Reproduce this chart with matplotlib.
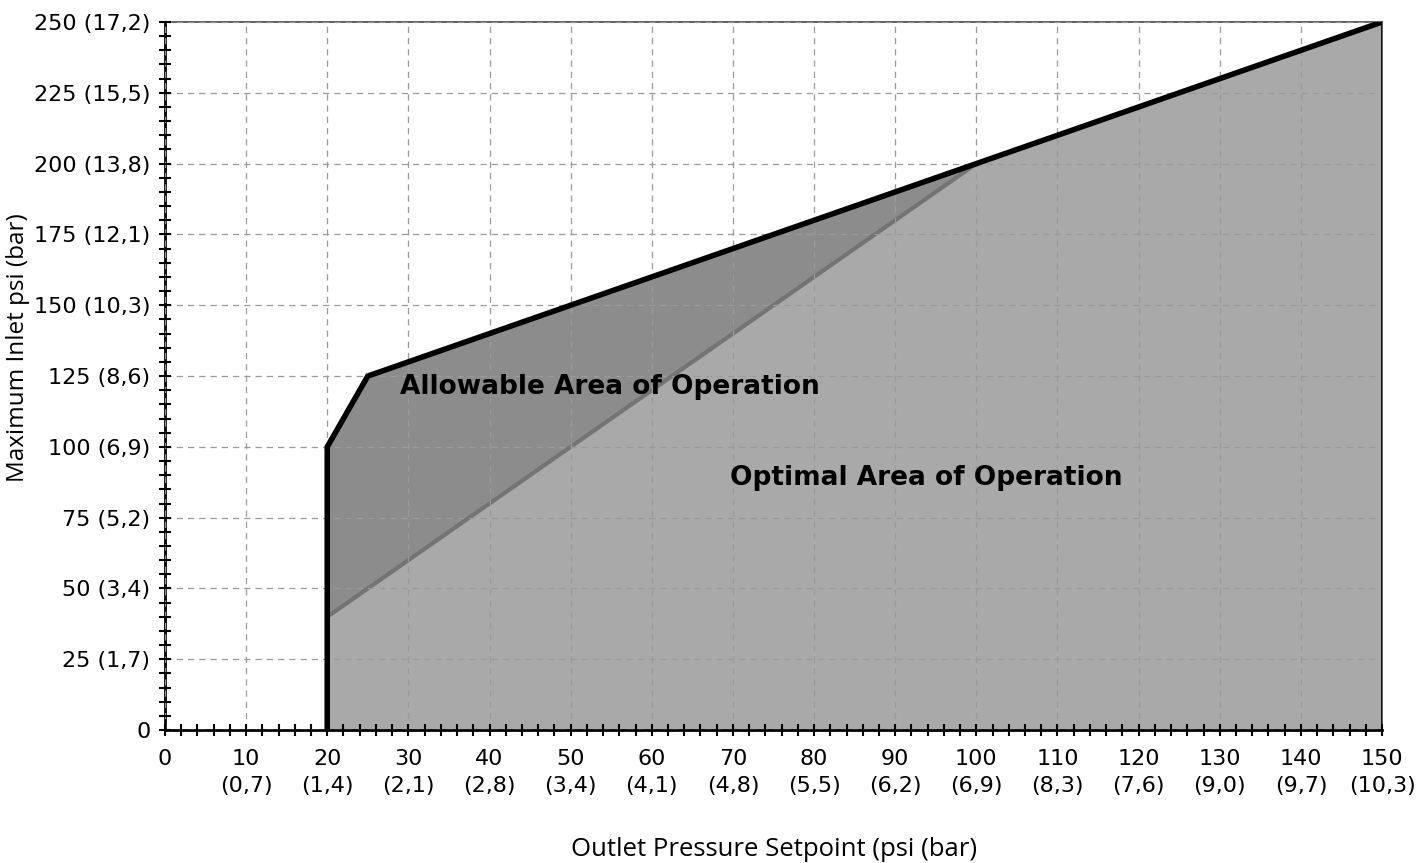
import numpy as np
import matplotlib
matplotlib.use('Agg')
import matplotlib.pyplot as plt

plt.rcParams['font.family'] = ['Open Sans', 'DejaVu Sans']

# Outer boundary of the allowable area (psi outlet, psi inlet)
allow_x = [20, 20, 25, 100, 150, 150]
allow_y = [0, 100, 125, 200, 250, 0]
# Optimal area (lighter region under the diagonal)
opt_x = [20, 100, 150, 150, 20]
opt_y = [40, 200, 250, 0, 0]
# diagonal separating the two areas
diag_x = [20, 100]
diag_y = [40, 200]

x_ticks = [0, 10, 20, 30, 40, 50, 60, 70, 80, 90, 100, 110, 120, 130, 140, 150]
x_bar = ['', '0,7', '1,4', '2,1', '2,8', '3,4', '4,1', '4,8', '5,5', '6,2',
         '6,9', '8,3', '7,6', '9,0', '9,7', '10,3']
y_ticks = [0, 25, 50, 75, 100, 125, 150, 175, 200, 225, 250]
y_bar = ['', '1,7', '3,4', '5,2', '6,9', '8,6', '10,3', '12,1', '13,8', '15,5', '17,2']

fig = plt.figure(figsize=(14.16, 8.63), dpi=100)
ax = fig.add_axes([0.1165, 0.154, 0.8595, 0.8205])

ax.fill(allow_x, allow_y, color='#8c8c8c', zorder=1, lw=0)
ax.fill(opt_x, opt_y, color='#a9a9a9', zorder=1.2, lw=0)
ax.plot(diag_x, diag_y, color='#747474', lw=3, zorder=1.5, solid_capstyle='butt')
ax.plot(allow_x[:5], allow_y[:5], color='black', lw=4, zorder=3, solid_joinstyle='miter')
ax.plot(allow_x[4:], allow_y[4:], color='black', lw=1.2, zorder=3)

ax.text(29, 121, 'Allowable Area of Operation', fontsize=19, fontweight='heavy',
        family='DejaVu Sans', va='center', ha='left', zorder=4)
ax.text(69.7, 89, 'Optimal Area of Operation', fontsize=19, fontweight='heavy',
        family='DejaVu Sans', va='center', ha='left', zorder=4)

ax.set_xlim(0, 150)
ax.set_ylim(0, 250)
ax.set_xticks(x_ticks)
ax.set_xticklabels([f'{t}' if b == '' else f'{t}\n({b})' for t, b in zip(x_ticks, x_bar)],
                   linespacing=1.45, va='top', family='DejaVu Sans')
ax.set_yticks(y_ticks)
ax.set_yticklabels([f'{t}' if b == '' else f'{t} ({b})' for t, b in zip(y_ticks, y_bar)],
                   family='DejaVu Sans')
ax.set_xticks(np.arange(0, 151, 2), minor=True)
ax.set_yticks(np.arange(0, 251, 5), minor=True)

ax.tick_params(which='both', direction='inout', length=9, width=1.5, color='black',
               top=False, right=False)
ax.tick_params(which='major', labelsize=16, pad=6)
ax.tick_params(axis='x', which='major', pad=9)

ax.set_axisbelow(False)
ax.grid(True, which='major', linestyle=(0, (5, 4)), color='#9a9a9a', lw=0.9)

for s in ['left', 'bottom']:
    ax.spines[s].set_linewidth(2)
for s in ['top', 'right']:
    ax.spines[s].set_linewidth(1.2)
    ax.spines[s].set_color('#444444')

fig.text(0.547, 0.008, 'Outlet Pressure Setpoint (psi (bar)', fontsize=18.5, ha='center', va='baseline')
fig.text(0.0127, 0.597, 'Maximum Inlet psi (bar)', fontsize=17.5, rotation=90, ha='center', va='center')

fig.savefig('out.png', dpi=100)
